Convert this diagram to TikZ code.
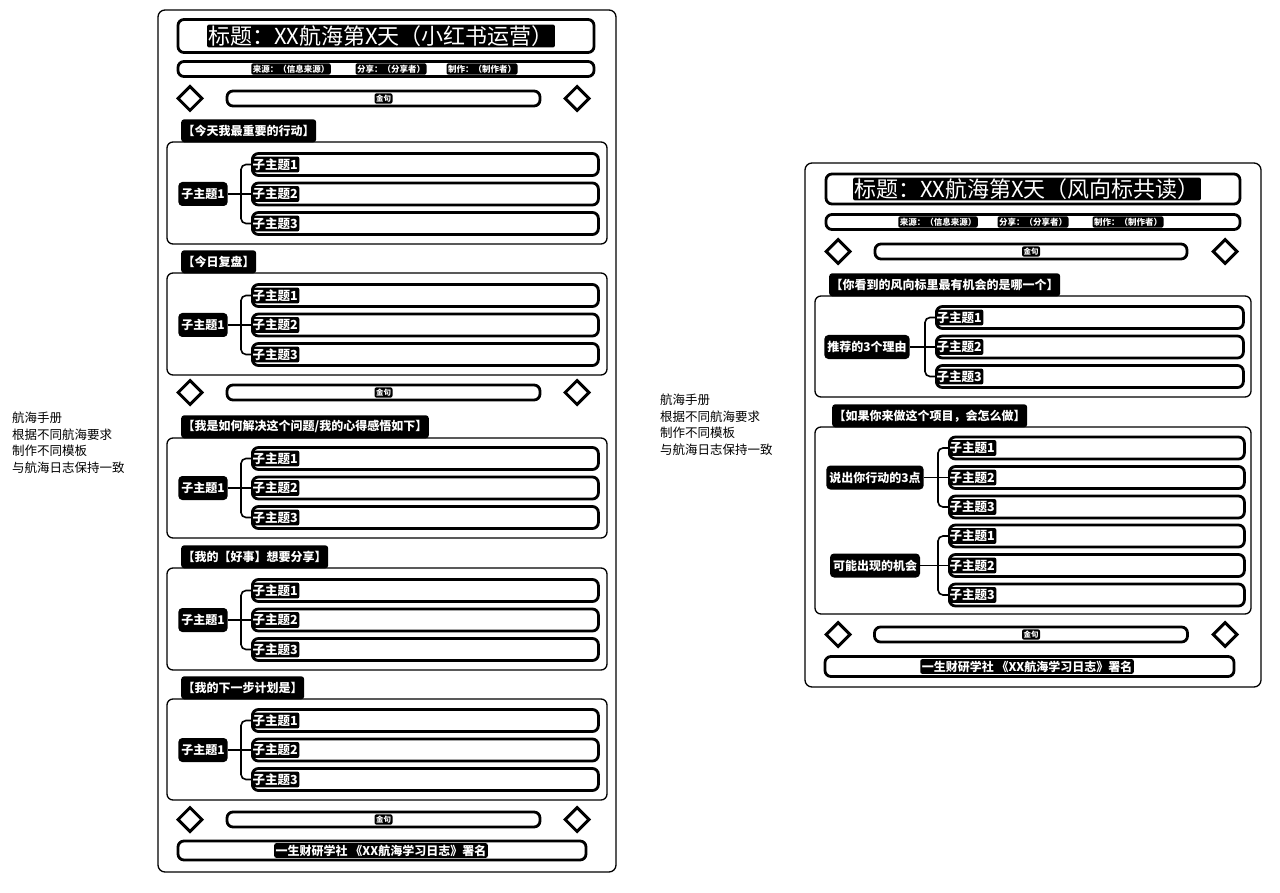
\documentclass[tikz,border=0pt]{standalone}
\usepackage{fontspec}
\setmainfont{Noto Sans CJK SC}
\usetikzlibrary{shapes.geometric}
\tikzset{
 frame/.style={draw=black, line width=1.3pt, rounded corners=7pt},
 secbox/.style={draw=black, line width=1.3pt, rounded corners=6pt},
 thickbox/.style={draw=black, line width=2.8pt, rounded corners=6pt, fill=white, inner sep=0pt},
 inv/.style={fill=black, text=white, inner sep=1.5pt, rounded corners=2pt},
 dia/.style={diamond, draw=black, line width=3pt, minimum size=25pt, inner sep=0pt, aspect=1, fill=white},
 tabnode/.style={fill=black, text=white, font=\fontsize{12}{14}\selectfont\bfseries, rounded corners=3pt, inner xsep=1.5pt, minimum height=23pt, anchor=south west},
 central/.style={fill=black, text=white, font=\fontsize{12}{14}\selectfont\bfseries, rounded corners=4pt, inner xsep=3pt, minimum height=24pt},
 subbox/.style={thickbox, minimum height=22pt},
 sublabel/.style={inv, font=\fontsize{12.5}{14}\selectfont\bfseries, anchor=west, inner ysep=2pt},
 conn/.style={draw=black, line width=1.6pt},
 note/.style={align=left, anchor=north west, font=\fontsize{12.5}{16.5}\selectfont, inner sep=0pt},
 small/.style={inv, font=\fontsize{8.5}{10}\selectfont\bfseries},
 tiny/.style={inv, font=\fontsize{7.5}{9}\selectfont\bfseries},
 titletext/.style={inv, font=\fontsize{22}{26}\selectfont, inner sep=1pt},
 foottext/.style={inv, font=\fontsize{12}{14}\selectfont\bfseries},
}
\newcommand\topicgroup[7]{%
 \node[central] (#1c) at (#2,#3) {#4};
 \foreach \i/\myoff in {1/-29.5,2/0,3/29.5}{
   \node[subbox, minimum width={#7-#6}, anchor=west] (#1s\i) at ({#6},{#3+\myoff}) {};
   \node[sublabel] (#1l\i) at (#1s\i.west) {子主题\i};
 }
 \draw[conn] (#1c.east) -- (#1s2.west);
 \draw[conn, rounded corners=5pt] (#1s1.west) -| (#5,#3) |- (#1s3.west);
}
\begin{document}
\begin{tikzpicture}[x=1pt,y=-1pt]
\useasboundingbox[fill=white] (0,0) rectangle (1280,893);

% ---------- side notes ----------
\node[note] (noteL) at (12,412) {航海手册\\根据不同航海要求\\制作不同模板\\与航海日志保持一致};
\node[note] (noteR) at (660,394) {航海手册\\根据不同航海要求\\制作不同模板\\与航海日志保持一致};

% ---------- left panel ----------
\draw[frame] (158,10) rectangle (616,872);
\node[thickbox, minimum width=416pt, minimum height=33pt] (Ltitle) at (386,36) {};
\node[titletext] (LtitleT) at (381,36) {标题：XX航海第X天（小红书运营）};
\node[thickbox, minimum width=416pt, minimum height=15pt] (Linfo) at (386,69) {};
\node[small] (Linfo1) at (291,69) {来源：（信息来源）};
\node[small] (Linfo2) at (391,69) {分享：（分享者）};
\node[small] (Linfo3) at (482,69) {制作：（制作者）};

\node[dia] (Ld1a) at (190,98.5) {};
\node[dia] (Ld1b) at (577,98.5) {};
\node[thickbox, minimum width=313pt, minimum height=15pt] (Lq1) at (383.5,98.5) {};
\node[tiny] (Lq1t) at (383.5,98.5) {金句};

% section 1
\draw[secbox] (167,142) rectangle (607,244);
\node[tabnode] (Ltab1) at (181,142.5) {【今天我最重要的行动】};
\topicgroup{La}{203}{194}{子主题1}{241}{251}{597}

% section 2
\draw[secbox] (167,273) rectangle (607,375);
\node[tabnode] (Ltab2) at (181,273.5) {【今日复盘】};
\topicgroup{Lb}{203}{325}{子主题1}{241}{251}{597}

\node[dia] (Ld2a) at (190,392.5) {};
\node[dia] (Ld2b) at (577,392.5) {};
\node[thickbox, minimum width=313pt, minimum height=15pt] (Lq2) at (383.5,392.5) {};
\node[tiny] (Lq2t) at (383.5,392.5) {金句};

% section 3
\draw[secbox] (167,438) rectangle (607,538);
\node[tabnode] (Ltab3) at (181,438.5) {【我是如何解决这个问题/我的心得感悟如下】};
\topicgroup{Lc}{203}{488}{子主题1}{241}{251}{597}

% section 4
\draw[secbox] (167,568) rectangle (607,670);
\node[tabnode] (Ltab4) at (181,568.5) {【我的【好事】想要分享】};
\topicgroup{Ld}{203}{620}{子主题1}{241}{251}{597}

% section 5
\draw[secbox] (167,699) rectangle (607,800);
\node[tabnode] (Ltab5) at (181,699.5) {【我的下一步计划是】};
\topicgroup{Le}{203}{750}{子主题1}{241}{251}{597}

\node[dia] (Ld3a) at (190,819.5) {};
\node[dia] (Ld3b) at (577,819.5) {};
\node[thickbox, minimum width=313pt, minimum height=15pt] (Lq3) at (383.5,819.5) {};
\node[tiny] (Lq3t) at (383.5,819.5) {金句};

\node[thickbox, minimum width=408pt, minimum height=19pt] (Lfoot) at (382,850.5) {};
\node[foottext] (LfootT) at (381,850.5) {一生财研学社 《XX航海学习日志》署名};

% ---------- right panel ----------
\draw[frame] (805,163) rectangle (1261,687);
\node[thickbox, minimum width=414pt, minimum height=30pt] (Rtitle) at (1033,189) {};
\node[titletext] (RtitleT) at (1027,189) {标题：XX航海第X天（风向标共读）};
\node[thickbox, minimum width=414pt, minimum height=15pt] (Rinfo) at (1033,222) {};
\node[small] (Rinfo1) at (938,222) {来源：（信息来源）};
\node[small] (Rinfo2) at (1033,222) {分享：（分享者）};
\node[small] (Rinfo3) at (1128,222) {制作：（制作者）};

\node[dia] (Rd1a) at (838,251.5) {};
\node[dia] (Rd1b) at (1225,251.5) {};
\node[thickbox, minimum width=312pt, minimum height=15pt] (Rq1) at (1031,251.5) {};
\node[tiny] (Rq1t) at (1031,251.5) {金句};

% section A
\draw[secbox] (815,296) rectangle (1251,397);
\node[tabnode] (Rtab1) at (829,296.5) {【你看到的风向标里最有机会的是哪一个】};
\topicgroup{Ra}{867}{347}{推荐的3个理由}{925}{935}{1242}

% section B
\draw[secbox] (815,427) rectangle (1251,614);
\node[tabnode] (Rtab2) at (832,427.5) {【如果你来做这个项目，会怎么做】};
\topicgroup{Rb}{875}{477.5}{说出你行动的3点}{938}{948}{1243}
\topicgroup{Rc}{875}{565.5}{可能出现的机会}{938}{948}{1243}

\node[dia] (Rd2a) at (838,634.5) {};
\node[dia] (Rd2b) at (1225,634.5) {};
\node[thickbox, minimum width=313pt, minimum height=15pt] (Rq2) at (1031,634.5) {};
\node[tiny] (Rq2t) at (1031,634.5) {金句};

\node[thickbox, minimum width=409pt, minimum height=20pt] (Rfoot) at (1029.5,666.5) {};
\node[foottext] (RfootT) at (1027,666.5) {一生财研学社 《XX航海学习日志》署名};
\end{tikzpicture}
\end{document}
